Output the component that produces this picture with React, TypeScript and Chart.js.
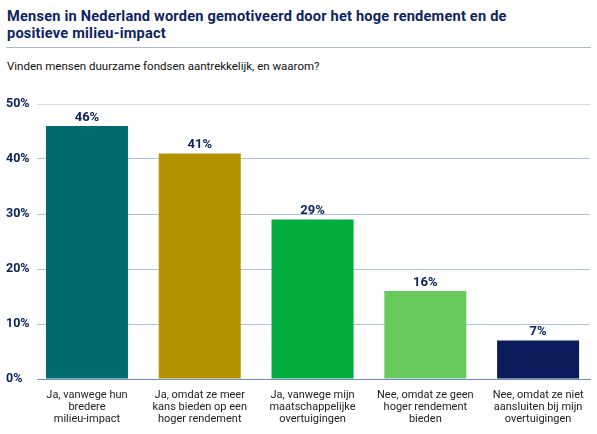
import React, { useEffect, useRef } from "react";
import { Chart, registerables } from "chart.js";

Chart.register(...registerables);

const TITLE_LINES: string[] = [
  "Mensen in Nederland worden gemotiveerd door het hoge rendement en de",
  "positieve milieu-impact",
];
const SUBTITLE = "Vinden mensen duurzame fondsen aantrekkelijk, en waarom?";

const categories: string[][] = [
  ["Ja, vanwege hun", "bredere", "milieu-impact"],
  ["Ja, omdat ze meer", "kans bieden op een", "hoger rendement"],
  ["Ja, vanwege mijn", "maatschappelijke", "overtuigingen"],
  ["Nee, omdat ze geen", "hoger rendement", "bieden"],
  ["Nee, omdat ze niet", "aansluiten bij mijn", "overtuigingen"],
];
const values: number[] = [46, 41, 29, 16, 7];
const barColors: string[] = ["#006b6f", "#b39200", "#00ac3b", "#68c95c", "#0b1b5c"];
const yTicks: number[] = [0, 10, 20, 30, 40, 50];

const NAVY = "#0c2461";
const FONT = "Roboto, 'Noto Sans', sans-serif";

const valueLabels = {
  id: "valueLabels",
  afterDatasetsDraw(chart: any) {
    const ctx = chart.ctx;
    const meta = chart.getDatasetMeta(0);
    ctx.save();
    ctx.font = `700 13px ${FONT}`;
    ctx.fillStyle = NAVY;
    ctx.textAlign = "center";
    ctx.textBaseline = "bottom";
    meta.data.forEach((bar: any, i: number) => {
      ctx.fillText(`${values[i]}%`, bar.x, bar.y - 2);
    });
    ctx.restore();
  },
};

// category labels under the x axis, placed through the x scale
const xLabels = {
  id: "xLabels",
  afterDraw(chart: any) {
    const ctx = chart.ctx;
    const xs = chart.scales.x;
    const base = chart.chartArea.bottom;
    ctx.save();
    ctx.font = `400 11px ${FONT}`;
    ctx.fillStyle = "#222222";
    ctx.textAlign = "center";
    ctx.textBaseline = "middle";
    categories.forEach((lines, i) => {
      const x = xs.getPixelForValue(i);
      lines.forEach((line, j) => {
        ctx.fillText(line, x, base + 16.5 + j * 12);
      });
    });
    ctx.restore();
  },
};

export default function App() {
  const ref = useRef<HTMLCanvasElement | null>(null);
  useEffect(() => {
    if (!ref.current) return;
    const chart = new Chart(ref.current, {
      type: "bar",
      data: {
        datasets: [
          {
            data: values.map((v, i) => ({ x: i, y: v })),
            backgroundColor: barColors,
            borderWidth: 0,
            barPercentage: 0.727,
            categoryPercentage: 1,
          },
        ],
      },
      options: {
        animation: false,
        responsive: false,
        devicePixelRatio: 1,
        layout: { padding: { left: 6, right: 7, top: 14, bottom: 0 } },
        plugins: { legend: { display: false }, tooltip: { enabled: false } },
        scales: {
          x: {
            type: "linear",
            min: -0.443,
            max: 4.46,
            offset: false,
            afterBuildTicks: (s: any) => {
              s.ticks = categories.map((_, i) => ({ value: i }));
            },
            grid: { display: false, drawTicks: false },
            border: { display: true, color: "#6d8ec4", width: 1 },
            ticks: { display: false },
            afterFit: (s: any) => {
              s.height = 55;
            },
          },
          y: {
            min: 0,
            max: 50,
            z: 1,
            afterBuildTicks: (s: any) => {
              s.ticks = yTicks.map((v) => ({ value: v }));
            },
            grid: {
              drawTicks: false,
              color: (c: any) =>
                c.tick && c.tick.value === 0
                  ? "rgba(0,0,0,0)"
                  : c.tick && c.tick.value === 50
                  ? "rgba(120,160,210,0.35)"
                  : "rgba(70,120,190,0.45)",
              lineWidth: 1,
            },
            border: { display: false },
            ticks: {
              color: NAVY,
              font: { family: FONT, size: 12.5, weight: "bold" },
              crossAlign: "far",
              padding: 0,
              callback: (v: any) => `${v}%`,
            },
            afterFit: (s: any) => {
              s.width = 31;
            },
          },
        },
      },
      plugins: [valueLabels, xLabels],
    });
    return () => chart.destroy();
  }, []);

  return (
    <div
      style={{
        position: "fixed",
        left: 0,
        top: 0,
        width: 597,
        height: 434,
        background: "#ffffff",
        fontFamily: FONT,
      }}
    >
      <div
        style={{
          position: "absolute",
          left: 7,
          top: 7.5,
          width: 590,
          fontSize: 14.6,
          fontWeight: 700,
          letterSpacing: "0.2px",
          lineHeight: "17.5px",
          color: NAVY,
          whiteSpace: "nowrap",
        }}
      >
        {TITLE_LINES.map((l, i) => (
          <div key={i}>{l}</div>
        ))}
      </div>
      <div
        style={{
          position: "absolute",
          left: 6,
          top: 47,
          width: 585,
          height: 1,
          background: "#aab7cf",
        }}
      />
      <div
        style={{
          position: "absolute",
          left: 7,
          top: 58,
          fontSize: 11.5,
          lineHeight: "16px",
          color: "#111111",
          whiteSpace: "nowrap",
        }}
      >
        {SUBTITLE}
      </div>
      <canvas
        ref={ref}
        width={597}
        height={344}
        style={{ position: "absolute", left: 0, top: 90, width: 597, height: 344 }}
      />
    </div>
  );
}
